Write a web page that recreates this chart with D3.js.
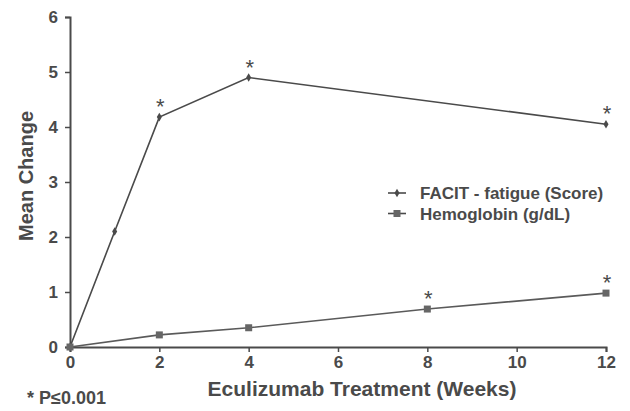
<!DOCTYPE html>
<html>
<head>
<meta charset="utf-8">
<script src="https://cdn.jsdelivr.net/npm/d3@7"></script>
<style>
    body { margin: 0; background: #fff; }
    svg { display: block; font-family: "Liberation Sans", Arial, sans-serif; }
</style>
</head>
<body>
<svg id="chart"></svg>
<script>
// Data
const weeksFacit = [0, 1, 2, 4, 12];
const facitValues = [0, 2.1, 4.18, 4.9, 4.05];
const facitSignificant = [false, false, true, true, true];

const weeksHgb = [0, 2, 4, 8, 12];
const hgbValues = [0, 0.22, 0.35, 0.69, 0.98];
const hgbSignificant = [false, false, false, true, true];

const xTicks = [0, 2, 4, 6, 8, 10, 12];
const yTicks = [0, 1, 2, 3, 4, 5, 6];

const ink = '#4a4a4a';
const fontFamily = '"Liberation Sans", Arial, sans-serif';

const margin = {top: 17, right: 24, bottom: 64, left: 70};
const width = 630 - margin.left - margin.right;
const height = 411 - margin.top - margin.bottom;

const svg = d3.select('#chart')
    .attr('width', 630)
    .attr('height', 411);

const g = svg.append('g')
    .attr('transform', `translate(${margin.left},${margin.top})`);

const x = d3.scaleLinear().domain([0, 12]).range([0, 536]);
const y = d3.scaleLinear().domain([0, 6]).range([height, 0]);

// Axes
const xAxis = g.append('g')
    .attr('transform', `translate(0,${height})`)
    .call(d3.axisBottom(x).tickValues(xTicks).tickFormat(d3.format('d')).tickSize(5).tickPadding(4));
const yAxis = g.append('g')
    .call(d3.axisLeft(y).tickValues(yTicks).tickFormat(d3.format('d')).tickSize(5).tickPadding(7));

[xAxis, yAxis].forEach(a => {
    a.attr('font-size', 17).attr('font-family', fontFamily).attr('font-weight', 'bold');
    a.select('.domain').attr('stroke', ink).attr('stroke-width', 2);
    a.selectAll('.tick line').attr('stroke', ink).attr('stroke-width', 1.5);
    a.selectAll('.tick text').attr('fill', ink);
});

// Axis titles
svg.append('text')
    .attr('x', 362)
    .attr('y', 396)
    .attr('text-anchor', 'middle')
    .attr('fill', ink)
    .attr('font-size', 21)
    .attr('font-weight', 'bold')
    .text('Eculizumab Treatment (Weeks)');

svg.append('text')
    .attr('transform', 'rotate(-90)')
    .attr('x', -176)
    .attr('y', 33)
    .attr('text-anchor', 'middle')
    .attr('fill', ink)
    .attr('font-size', 20)
    .attr('font-weight', 'bold')
    .text('Mean Change');

svg.append('text')
    .attr('x', 27)
    .attr('y', 404)
    .attr('fill', ink)
    .attr('font-size', 18)
    .attr('font-weight', 'bold')
    .text('* P\u22640.001');

// Lines
const line = d3.line()
    .x(d => x(d[0]))
    .y(d => y(d[1]));

const facit = weeksFacit.map((w, i) => [w, facitValues[i], facitSignificant[i]]);
const hgb = weeksHgb.map((w, i) => [w, hgbValues[i], hgbSignificant[i]]);

g.append('path')
    .datum(facit)
    .attr('d', line)
    .attr('fill', 'none')
    .attr('stroke', ink)
    .attr('stroke-width', 1.6);

g.append('path')
    .datum(hgb)
    .attr('d', line)
    .attr('fill', 'none')
    .attr('stroke', '#5a5a5a')
    .attr('stroke-width', 1.6);

// Markers
const diamond = d3.symbol().type(d3.symbolDiamond).size(22);
g.selectAll('.facit-pt')
    .data(facit)
    .enter()
    .append('path')
    .attr('class', 'facit-pt')
    .attr('d', diamond)
    .attr('transform', d => `translate(${x(d[0])},${y(d[1])})`)
    .attr('fill', ink);

g.selectAll('.hgb-pt')
    .data(hgb)
    .enter()
    .append('rect')
    .attr('class', 'hgb-pt')
    .attr('x', d => x(d[0]) - 3.5)
    .attr('y', d => y(d[1]) - 3.5)
    .attr('width', 7)
    .attr('height', 7)
    .attr('fill', '#666');

// Significance stars
const stars = facit.filter(d => d[2]).concat(hgb.filter(d => d[2]));
g.selectAll('.star')
    .data(stars)
    .enter()
    .append('text')
    .attr('class', 'star')
    .attr('x', d => x(d[0]) + 1)
    .attr('y', d => y(d[1]) - 3)
    .attr('text-anchor', 'middle')
    .attr('fill', ink)
    .attr('font-size', 22)
    .text('*');

// Legend
const legendItems = [
    {label: 'FACIT - fatigue (Score)', marker: 'diamond'},
    {label: 'Hemoglobin (g/dL)', marker: 'square'}
];
const legend = svg.append('g').attr('transform', 'translate(388,193)');
legendItems.forEach((item, i) => {
    const row = legend.append('g').attr('transform', `translate(0,${i * 20.5})`);
    row.append('line')
        .attr('x1', 0).attr('x2', 18)
        .attr('y1', 0).attr('y2', 0)
        .attr('stroke', ink)
        .attr('stroke-width', 1.6);
    if (item.marker === 'diamond') {
        row.append('path')
            .attr('d', diamond)
            .attr('transform', 'translate(9,0)')
            .attr('fill', ink);
    } else {
        row.append('rect')
            .attr('x', 5.5).attr('y', -3.5)
            .attr('width', 7).attr('height', 7)
            .attr('fill', '#666');
    }
    row.append('text')
        .attr('x', 32)
        .attr('y', 6)
        .attr('fill', ink)
        .attr('font-size', 17)
        .attr('font-weight', 'bold')
        .text(item.label);
});
</script>
</body>
</html>
